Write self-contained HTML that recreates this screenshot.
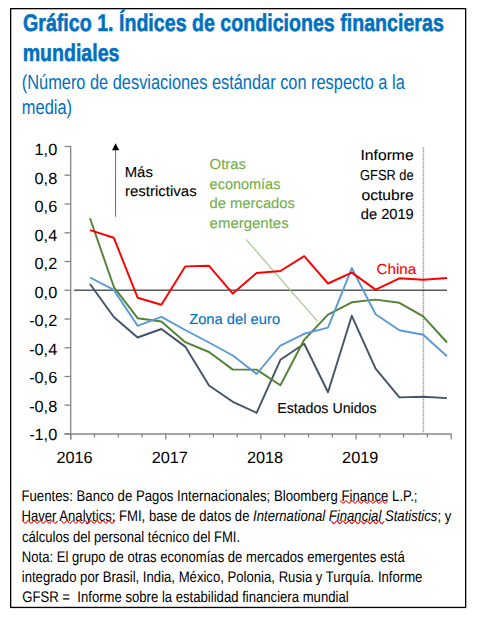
<!DOCTYPE html>
<html><head><meta charset="utf-8"><style>
html,body{margin:0;padding:0;background:#fff;width:477px;height:620px;overflow:hidden;position:relative}
</style></head><body>
<svg width="477" height="620" style="position:absolute;left:0;top:0">
<rect x="10.65" y="8.65" width="455" height="598.8" fill="none" stroke="#000" stroke-width="1.3"/>
<g font-family="'Liberation Sans', sans-serif" text-rendering="geometricPrecision"><text transform="translate(23.02,30.50) scale(0.8173,1)" font-size="24px" font-weight="bold" fill="#0070C0" stroke="#0070C0" stroke-width="0.55">Gráfico 1. Índices de condiciones financieras</text><text transform="translate(22.63,60.80) scale(0.8154,1)" font-size="24px" font-weight="bold" fill="#0070C0" stroke="#0070C0" stroke-width="0.55">mundiales</text><text transform="translate(21.82,88.90) scale(0.8025,1)" font-size="20.4px" font-weight="normal" fill="#0070C0" >(Número de desviaciones estándar con respecto a la</text><text transform="translate(21.81,113.60) scale(0.8060,1)" font-size="20.4px" font-weight="normal" fill="#0070C0" >media)</text><text transform="translate(21.44,500.60) scale(0.8578,1)" font-size="15.4px" font-weight="normal" fill="#000" >Fuentes: Banco de Pagos Internacionales; Bloomberg Finance L.P.;</text><text transform="translate(21.45,520.70) scale(0.8515,1)" font-size="15.4px" font-weight="normal" fill="#000" >Haver Analytics; FMI, base de datos de <tspan font-style="italic">International Financial Statistics</tspan>; y</text><text transform="translate(21.98,541.80) scale(0.8500,1)" font-size="15.4px" font-weight="normal" fill="#000" >cálculos del personal técnico del FMI.</text><text transform="translate(21.85,561.90) scale(0.8508,1)" font-size="15.4px" font-weight="normal" fill="#000" >Nota: El grupo de otras economías de mercados emergentes está</text><text transform="translate(21.71,581.70) scale(0.8532,1)" font-size="15.4px" font-weight="normal" fill="#000" >integrado por Brasil, India, México, Polonia, Rusia y Turquía. Informe</text><text transform="translate(22.24,601.60) scale(0.8526,1)" font-size="15.4px" font-weight="normal" fill="#000" >GFSR =&#160; Informe sobre la estabilidad financiera mundial</text></g>
<g stroke="#868686" stroke-width="1.3" fill="none">
<line x1="70.7" y1="145.9" x2="70.7" y2="439.5"/>
<line x1="64.5" y1="434.0" x2="451.5" y2="434.0"/>
<line x1="64.5" y1="146.5" x2="71" y2="146.5"/><line x1="64.5" y1="175.2" x2="71" y2="175.2"/><line x1="64.5" y1="204.0" x2="71" y2="204.0"/><line x1="64.5" y1="232.8" x2="71" y2="232.8"/><line x1="64.5" y1="261.5" x2="71" y2="261.5"/><line x1="64.5" y1="290.2" x2="71" y2="290.2"/><line x1="64.5" y1="319.0" x2="71" y2="319.0"/><line x1="64.5" y1="347.8" x2="71" y2="347.8"/><line x1="64.5" y1="376.5" x2="71" y2="376.5"/><line x1="64.5" y1="405.2" x2="71" y2="405.2"/><line x1="64.5" y1="434.0" x2="71" y2="434.0"/><line x1="70.7" y1="434.0" x2="70.7" y2="439.5"/><line x1="94.5" y1="434.0" x2="94.5" y2="437.5"/><line x1="118.3" y1="434.0" x2="118.3" y2="437.5"/><line x1="142.0" y1="434.0" x2="142.0" y2="437.5"/><line x1="165.8" y1="434.0" x2="165.8" y2="439.5"/><line x1="189.6" y1="434.0" x2="189.6" y2="437.5"/><line x1="213.4" y1="434.0" x2="213.4" y2="437.5"/><line x1="237.2" y1="434.0" x2="237.2" y2="437.5"/><line x1="260.9" y1="434.0" x2="260.9" y2="439.5"/><line x1="284.7" y1="434.0" x2="284.7" y2="437.5"/><line x1="308.5" y1="434.0" x2="308.5" y2="437.5"/><line x1="332.3" y1="434.0" x2="332.3" y2="437.5"/><line x1="356.1" y1="434.0" x2="356.1" y2="439.5"/><line x1="379.8" y1="434.0" x2="379.8" y2="437.5"/><line x1="403.6" y1="434.0" x2="403.6" y2="437.5"/><line x1="427.4" y1="434.0" x2="427.4" y2="437.5"/><line x1="451.2" y1="434.0" x2="451.2" y2="439.5"/>
</g>
<line x1="423.4" y1="147" x2="423.4" y2="434" stroke="#dcdcdc" stroke-width="1.6"/><line x1="423.4" y1="147" x2="423.4" y2="434" stroke="#a4a4a4" stroke-width="1.4" stroke-dasharray="1,1"/>
<line x1="74" y1="290.2" x2="447" y2="290.2" stroke="#595959" stroke-width="1.5"/>
<line x1="246" y1="239.4" x2="317.6" y2="321.3" stroke="#A9C98F" stroke-width="1.25"/>
<g font-family="'Liberation Sans', sans-serif" font-size="16.3px" fill="#000" text-rendering="geometricPrecision"><text x="57.2" y="155.0" text-anchor="end">1,0</text><text x="57.2" y="183.5" text-anchor="end">0,8</text><text x="57.2" y="212.0" text-anchor="end">0,6</text><text x="57.2" y="240.5" text-anchor="end">0,4</text><text x="57.2" y="269.0" text-anchor="end">0,2</text><text x="57.2" y="297.5" text-anchor="end">0,0</text><text x="57.2" y="326.0" text-anchor="end">-0,2</text><text x="57.2" y="354.5" text-anchor="end">-0,4</text><text x="57.2" y="383.0" text-anchor="end">-0,6</text><text x="57.2" y="411.5" text-anchor="end">-0,8</text><text x="57.2" y="440.0" text-anchor="end">-1,0</text><text x="74.5" y="462.8" text-anchor="middle">2016</text><text x="169.8" y="462.8" text-anchor="middle">2017</text><text x="265.0" y="462.8" text-anchor="middle">2018</text><text x="360.2" y="462.8" text-anchor="middle">2019</text></g>
<g font-family="'Liberation Sans', sans-serif" text-rendering="geometricPrecision"><text transform="translate(124.71,176.80) scale(1.0202,1)" font-size="14.6px" fill="#000" stroke="#000" stroke-width="0.1">Más</text><text transform="translate(125.00,195.90) scale(1.0285,1)" font-size="14.6px" fill="#000" stroke="#000" stroke-width="0.1">restrictivas</text><text transform="translate(209.61,168.90) scale(1.0152,1)" font-size="14.6px" fill="#70AD47" stroke="#70AD47" stroke-width="0.1">Otras</text><text transform="translate(209.62,188.60) scale(0.9915,1)" font-size="14.6px" fill="#70AD47" stroke="#70AD47" stroke-width="0.1">economías</text><text transform="translate(209.51,208.40) scale(1.0123,1)" font-size="14.6px" fill="#70AD47" stroke="#70AD47" stroke-width="0.1">de mercados</text><text transform="translate(209.60,227.80) scale(1.0253,1)" font-size="14.6px" fill="#70AD47" stroke="#70AD47" stroke-width="0.1">emergentes</text><text transform="translate(360.49,160.30) scale(1.0744,1)" font-size="14.6px" fill="#000" stroke="#000" stroke-width="0.1">Informe</text><text transform="translate(360.06,180.20) scale(0.8793,1)" font-size="14.6px" fill="#000" stroke="#000" stroke-width="0.1">GFSR de</text><text transform="translate(361.47,199.90) scale(1.0717,1)" font-size="14.6px" fill="#000" stroke="#000" stroke-width="0.1">octubre</text><text transform="translate(360.81,219.40) scale(1.0035,1)" font-size="14.6px" fill="#000" stroke="#000" stroke-width="0.1">de 2019</text><text transform="translate(189.16,324.00) scale(1.0098,1)" font-size="14.6px" fill="#0070C0" stroke="#0070C0" stroke-width="0.1">Zona del euro</text><text transform="translate(376.54,273.50) scale(1.0408,1)" font-size="14.6px" fill="#FF0000" stroke="#FF0000" stroke-width="0.1">China</text><text transform="translate(277.16,412.60) scale(0.9727,1)" font-size="14.6px" fill="#000" stroke="#000" stroke-width="0.1">Estados Unidos</text></g>
<g fill="none" stroke-width="1.95" stroke-linejoin="round">
<polyline points="90.0,284.0 113.8,317.0 137.6,337.5 161.4,329.0 185.2,346.6 209.0,385.5 232.8,401.8 256.6,412.8 280.4,359.8 304.2,343.8 328.0,392.2 351.8,315.8 375.6,368.6 399.4,397.4 423.2,396.8 447.0,398.1" stroke="#44546A"/>
<polyline points="90.0,218.2 113.8,286.8 137.6,318.2 161.4,321.5 185.2,342.2 209.0,352.0 232.8,369.6 256.6,369.6 280.4,385.3 304.2,339.8 328.0,314.6 351.8,302.3 375.6,299.6 399.4,302.8 423.2,316.3 447.0,342.5" stroke="#548235"/>
<polyline points="90.0,277.5 113.8,289.9 137.6,325.8 161.4,316.8 185.2,330.0 209.0,342.5 232.8,355.5 256.6,374.0 280.4,345.5 304.2,333.8 328.0,327.6 351.8,268.1 375.6,314.2 399.4,330.2 423.2,334.7 447.0,356.2" stroke="#5B9BD5"/>
<polyline points="90.0,230.1 113.8,237.7 137.6,297.7 161.4,304.7 185.2,266.4 209.0,265.8 232.8,293.6 256.6,273.0 280.4,271.0 304.2,256.2 328.0,283.5 351.8,272.6 375.6,289.6 399.4,278.3 423.2,279.8 447.0,278.0" stroke="#FF0000"/>
</g>
<line x1="115.6" y1="216.8" x2="115.6" y2="149" stroke="#6a6a6a" stroke-width="1"/>
<path d="M115.6,143.3 L112,150.3 L119.2,150.3 Z" fill="#000"/>
<polyline points="340.00,500.75 340.50,500.92 341.00,501.38 341.50,502.00 342.00,502.62 342.50,503.08 343.00,503.25 343.50,503.08 344.00,502.62 344.50,502.00 345.00,501.38 345.50,500.92 346.00,500.75 346.50,500.92 347.00,501.38 347.50,502.00 348.00,502.62 348.50,503.08 349.00,503.25 349.50,503.08 350.00,502.62 350.50,502.00 351.00,501.38 351.50,500.92 352.00,500.75 352.50,500.92 353.00,501.38 353.50,502.00 354.00,502.62 354.50,503.08 355.00,503.25 355.50,503.08 356.00,502.62 356.50,502.00 357.00,501.38 357.50,500.92 358.00,500.75 358.50,500.92 359.00,501.38 359.50,502.00 360.00,502.62 360.50,503.08 361.00,503.25 361.50,503.08 362.00,502.62 362.50,502.00 363.00,501.38 363.50,500.92 364.00,500.75 364.50,500.92 365.00,501.38 365.50,502.00 366.00,502.62 366.50,503.08 367.00,503.25 367.50,503.08 368.00,502.62 368.50,502.00 369.00,501.38 369.50,500.92 370.00,500.75 370.50,500.92 371.00,501.38 371.50,502.00 372.00,502.62 372.50,503.08 373.00,503.25 373.50,503.08 374.00,502.62 374.50,502.00 375.00,501.38 375.50,500.92 376.00,500.75 376.50,500.92 377.00,501.38 377.50,502.00 378.00,502.62 378.50,503.08 379.00,503.25 379.50,503.08 380.00,502.62 380.50,502.00 381.00,501.38 381.50,500.92 382.00,500.75 382.50,500.92 383.00,501.38 383.50,502.00 384.00,502.62 384.50,503.08 385.00,503.25 385.50,503.08 386.00,502.62 386.50,502.00 387.00,501.38 387.50,500.92 388.00,500.75" fill="none" stroke="#FF1a1a" stroke-width="1.15"/><polyline points="22.20,520.75 22.70,520.92 23.20,521.38 23.70,522.00 24.20,522.62 24.70,523.08 25.20,523.25 25.70,523.08 26.20,522.62 26.70,522.00 27.20,521.38 27.70,520.92 28.20,520.75 28.70,520.92 29.20,521.38 29.70,522.00 30.20,522.62 30.70,523.08 31.20,523.25 31.70,523.08 32.20,522.62 32.70,522.00 33.20,521.38 33.70,520.92 34.20,520.75 34.70,520.92 35.20,521.38 35.70,522.00 36.20,522.62 36.70,523.08 37.20,523.25 37.70,523.08 38.20,522.62 38.70,522.00 39.20,521.38 39.70,520.92 40.20,520.75 40.70,520.92 41.20,521.38 41.70,522.00 42.20,522.62 42.70,523.08 43.20,523.25 43.70,523.08 44.20,522.62 44.70,522.00 45.20,521.38 45.70,520.92 46.20,520.75 46.70,520.92 47.20,521.38 47.70,522.00 48.20,522.62 48.70,523.08 49.20,523.25 49.70,523.08 50.20,522.62 50.70,522.00 51.20,521.38 51.70,520.92 52.20,520.75 52.70,520.92 53.20,521.38 53.70,522.00 54.20,522.62 54.70,523.08 55.20,523.25 55.70,523.08 56.20,522.62 56.70,522.00 57.20,521.38 57.70,520.92" fill="none" stroke="#FF1a1a" stroke-width="1.15"/><polyline points="61.00,520.75 61.50,520.92 62.00,521.38 62.50,522.00 63.00,522.62 63.50,523.08 64.00,523.25 64.50,523.08 65.00,522.62 65.50,522.00 66.00,521.38 66.50,520.92 67.00,520.75 67.50,520.92 68.00,521.38 68.50,522.00 69.00,522.62 69.50,523.08 70.00,523.25 70.50,523.08 71.00,522.62 71.50,522.00 72.00,521.38 72.50,520.92 73.00,520.75 73.50,520.92 74.00,521.38 74.50,522.00 75.00,522.62 75.50,523.08 76.00,523.25 76.50,523.08 77.00,522.62 77.50,522.00 78.00,521.38 78.50,520.92 79.00,520.75 79.50,520.92 80.00,521.38 80.50,522.00 81.00,522.62 81.50,523.08 82.00,523.25 82.50,523.08 83.00,522.62 83.50,522.00 84.00,521.38 84.50,520.92 85.00,520.75 85.50,520.92 86.00,521.38 86.50,522.00 87.00,522.62 87.50,523.08 88.00,523.25 88.50,523.08 89.00,522.62 89.50,522.00 90.00,521.38 90.50,520.92 91.00,520.75 91.50,520.92 92.00,521.38 92.50,522.00 93.00,522.62 93.50,523.08 94.00,523.25 94.50,523.08 95.00,522.62 95.50,522.00 96.00,521.38 96.50,520.92 97.00,520.75 97.50,520.92 98.00,521.38 98.50,522.00 99.00,522.62 99.50,523.08 100.00,523.25 100.50,523.08 101.00,522.62 101.50,522.00 102.00,521.38 102.50,520.92 103.00,520.75 103.50,520.92 104.00,521.38 104.50,522.00 105.00,522.62 105.50,523.08 106.00,523.25 106.50,523.08 107.00,522.62 107.50,522.00 108.00,521.38 108.50,520.92 109.00,520.75 109.50,520.92 110.00,521.38 110.50,522.00 111.00,522.62 111.50,523.08 112.00,523.25 112.50,523.08 113.00,522.62 113.50,522.00 114.00,521.38 114.50,520.92 115.00,520.75 115.50,520.92" fill="none" stroke="#FF1a1a" stroke-width="1.15"/><polyline points="330.90,521.05 331.40,521.22 331.90,521.67 332.40,522.30 332.90,522.92 333.40,523.38 333.90,523.55 334.40,523.38 334.90,522.92 335.40,522.30 335.90,521.67 336.40,521.22 336.90,521.05 337.40,521.22 337.90,521.67 338.40,522.30 338.90,522.92 339.40,523.38 339.90,523.55 340.40,523.38 340.90,522.92 341.40,522.30 341.90,521.67 342.40,521.22 342.90,521.05 343.40,521.22 343.90,521.67 344.40,522.30 344.90,522.92 345.40,523.38 345.90,523.55 346.40,523.38 346.90,522.92 347.40,522.30 347.90,521.67 348.40,521.22 348.90,521.05 349.40,521.22 349.90,521.67 350.40,522.30 350.90,522.92 351.40,523.38 351.90,523.55 352.40,523.38 352.90,522.92 353.40,522.30 353.90,521.67 354.40,521.22 354.90,521.05 355.40,521.22 355.90,521.67 356.40,522.30 356.90,522.92 357.40,523.38 357.90,523.55 358.40,523.38 358.90,522.92 359.40,522.30 359.90,521.67 360.40,521.22 360.90,521.05 361.40,521.22 361.90,521.67 362.40,522.30 362.90,522.92 363.40,523.38 363.90,523.55 364.40,523.38 364.90,522.92 365.40,522.30 365.90,521.67 366.40,521.22 366.90,521.05 367.40,521.22 367.90,521.67 368.40,522.30 368.90,522.92 369.40,523.38 369.90,523.55 370.40,523.38 370.90,522.92 371.40,522.30 371.90,521.67 372.40,521.22 372.90,521.05 373.40,521.22 373.90,521.67 374.40,522.30 374.90,522.92 375.40,523.38 375.90,523.55 376.40,523.38 376.90,522.92 377.40,522.30 377.90,521.67 378.40,521.22 378.90,521.05 379.40,521.22 379.90,521.67 380.40,522.30 380.90,522.92 381.40,523.38 381.90,523.55 382.40,523.38 382.90,522.92 383.40,522.30 383.90,521.67 384.40,521.22" fill="none" stroke="#FF1a1a" stroke-width="1.15"/>
</svg>
</body></html>
